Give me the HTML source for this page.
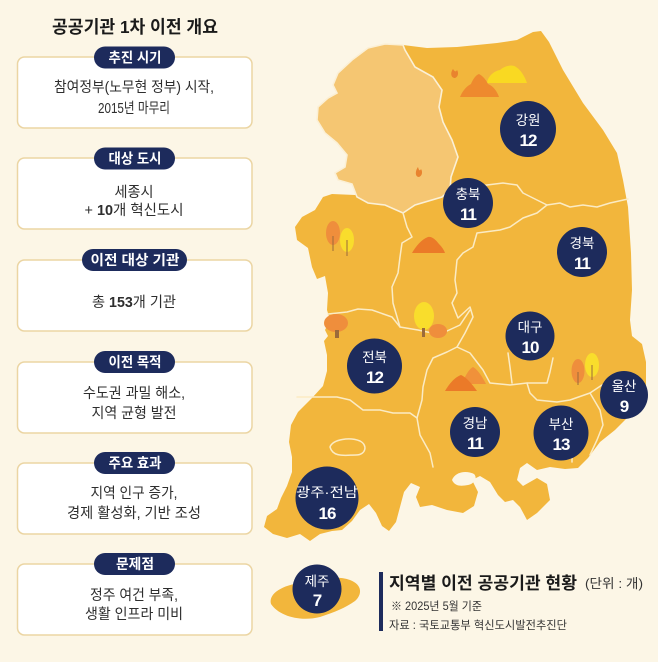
<!DOCTYPE html>
<html><head><meta charset="utf-8"><style>
html,body{margin:0;padding:0;background:#FCF6E6;}
svg{display:block;}
text{font-family:"Liberation Sans","Noto Sans CJK KR",sans-serif;}
</style></head><body>
<svg width="658" height="662" viewBox="0 0 658 662" xmlns="http://www.w3.org/2000/svg">
<rect x="0" y="0" width="658" height="662" fill="#FCF6E6"/>

<!-- LEFT COLUMN -->
<text x="135" y="33" text-anchor="middle" font-size="17.5" font-weight="bold" fill="#1a1a1a" textLength="166" lengthAdjust="spacingAndGlyphs">공공기관 1차 이전 개요</text>

<g fill="#fff" stroke="#EBD5A3" stroke-width="1.5">
<rect x="17.5" y="57" width="234.5" height="71" rx="7"/>
<rect x="17.5" y="158" width="234.5" height="71" rx="7"/>
<rect x="17.5" y="260" width="234.5" height="71" rx="7"/>
<rect x="17.5" y="362" width="234.5" height="71" rx="7"/>
<rect x="17.5" y="463" width="234.5" height="71" rx="7"/>
<rect x="17.5" y="564" width="234.5" height="71" rx="7"/>
</g>
<g fill="#1D2B5C">
<rect x="94" y="46.5" width="81" height="22" rx="11"/>
<rect x="94" y="147.5" width="81" height="22" rx="11"/>
<rect x="82" y="249" width="105" height="22" rx="11"/>
<rect x="94" y="351" width="81" height="22" rx="11"/>
<rect x="94" y="452" width="81" height="22" rx="11"/>
<rect x="94" y="553" width="81" height="22" rx="11"/>
</g>
<g fill="#fff" font-size="14" font-weight="bold" text-anchor="middle">
<text x="135" y="62.5" textLength="53" lengthAdjust="spacingAndGlyphs">추진 시기</text>
<text x="135" y="163.5" textLength="53" lengthAdjust="spacingAndGlyphs">대상 도시</text>
<text x="135" y="265" textLength="89" lengthAdjust="spacingAndGlyphs">이전 대상 기관</text>
<text x="135" y="367" textLength="53" lengthAdjust="spacingAndGlyphs">이전 목적</text>
<text x="135" y="468" textLength="53" lengthAdjust="spacingAndGlyphs">주요 효과</text>
<text x="135" y="569" textLength="38" lengthAdjust="spacingAndGlyphs">문제점</text>
</g>
<g fill="#2e2e2e" font-size="14.5" text-anchor="middle">
<text x="134" y="92" textLength="160" lengthAdjust="spacingAndGlyphs">참여정부(노무현 정부) 시작,</text>
<text x="134" y="113" textLength="72" lengthAdjust="spacingAndGlyphs">2015년 마무리</text>
<text x="134" y="197" textLength="39" lengthAdjust="spacingAndGlyphs">세종시</text>
<text x="134" y="215" textLength="99" lengthAdjust="spacingAndGlyphs">+ <tspan font-weight="bold">10</tspan>개 혁신도시</text>
<text x="134" y="307" textLength="84" lengthAdjust="spacingAndGlyphs">총 <tspan font-weight="bold">153</tspan>개 기관</text>
<text x="134" y="398" textLength="102" lengthAdjust="spacingAndGlyphs">수도권 과밀 해소,</text>
<text x="134" y="418" textLength="85" lengthAdjust="spacingAndGlyphs">지역 균형 발전</text>
<text x="134" y="498" textLength="87" lengthAdjust="spacingAndGlyphs">지역 인구 증가,</text>
<text x="134" y="518" textLength="134" lengthAdjust="spacingAndGlyphs">경제 활성화, 기반 조성</text>
<text x="134" y="600" textLength="88" lengthAdjust="spacingAndGlyphs">정주 여건 부족,</text>
<text x="134" y="619" textLength="98" lengthAdjust="spacingAndGlyphs">생활 인프라 미비</text>
</g>

<!-- MAP -->
<path fill="#F2B63C" d="M403,45 L427,48 L457,47 L497,43 L517,40 L533,32 L541,31 L549,42 L563,70 L583,103 L603,130 L617,153 L623,180 L628,207 L631,253 L632,290 L630,320 L632,336 L642,344 L646,362 L646,385 L640,402 L630,415 L615,430 L600,442 L588,458 L578,468 L565,469 L550,467 L537,470 L527,463 L520,468 L517,480 L523,486 L537,478 L547,484 L550,500 L537,513 L527,520 L520,507 L513,500 L505,502 L498,495 L490,482 L480,476 L472,480 L478,492 L474,506 L463,513 L447,510 L432,505 L420,507 L416,497 L420,487 L411,483 L404,492 L400,507 L396,522 L389,531 L382,526 L376,513 L369,504 L360,510 L352,521 L342,530 L332,531 L320,534 L310,541 L300,534 L287,538 L273,534 L264,527 L267,516 L277,509 L281,498 L287,486 L292,472 L292,457 L289,442 L291,425 L298,412 L312,398 L323,386 L327,371 L327,355 L324,341 L328,336 L325,330 L330,320 L327,310 L328,293 L325,276 L317,279 L312,267 L308,248 L297,240 L295,227 L302,217 L315,210 L323,197 L332,194 L355,195 L380,180 L400,100 Z"/>
<!-- bay -->
<path fill="#FCF6E6" d="M452,480 C455,472 466,470 474,474 C478,478 474,484 468,485 C462,486 455,487 452,480 Z"/>
<!-- Gyeonggi light region -->
<path fill="#F5C672" stroke="#FBF0D6" stroke-width="1.6" d="M403,45 L385,44 L368,48 L352,60 L338,73 L333,85 L337,93 L328,98 L318,107 L317,120 L325,133 L337,143 L347,155 L345,167 L335,173 L338,180 L352,184 L357,197 L368,203 L385,205 L403,213 L415,205 L442,197 L450,190 L451,177 L458,157 L452,140 L443,122 L439,107 L442,90 L433,77 L415,67 L405,50 Z"/>
<!-- region borders -->
<g fill="none" stroke="#FBEBC4" stroke-width="1.5" stroke-linejoin="round" stroke-linecap="round">
<path d="M447,192 L463,188 L487,185 L503,183 L517,185 L523,193 L537,200 L547,205 L560,203 L570,207 L583,205 L597,207 L610,203 L628,199"/>
<path d="M403,213 L407,227 L412,237 L402,243 L400,257 L398,273 L392,287 L393,303 L395,310 L400,327"/>
<path d="M328,314 L347,312 L358,309 L372,310 L392,317 L400,327 L418,330 L432,333 L447,331 L460,325 L470,310"/>
<path d="M547,205 L537,213 L523,218 L510,227 L500,230 L477,233 L473,247 L463,253 L457,260 L455,280 L457,293 L452,303 L458,318 L470,307 L473,317 L465,333 L457,347 L447,352 L433,358 L427,370 L423,387 L422,400 L417,418 L420,435 L430,453 L433,467"/>
<path d="M297,397 L320,397 L337,397 L350,400 L363,410 L380,410 L393,413 L410,413 L417,418"/>
<path d="M457,347 L470,353 L483,370 L490,383 L510,385 L527,383 L530,393 L537,400 L557,402 L570,400 L590,393 L602,385 L625,382"/>
<path d="M508,353 L510,367 L512,383"/>
<path d="M553,358 L550,372 L547,383 L527,383"/>
<path d="M590,393 L600,410 L603,425 L597,440 L590,455"/>
<path d="M572,438 L572,462"/>
<path d="M330,447 C333,439 350,437 360,441 C368,445 366,455 356,455 C346,455 333,458 330,447 Z"/>
</g>

<!-- decorations -->
<path fill="#F9D922" d="M487,83 C488,76 494,71 500,70 C504,66 512,64 516,67 C521,70 525,77 527,83 Z"/>
<path fill="#EE8A2E" d="M460,97 C463,90 467,86 471,84 C473,79 476,75 479,74 C483,76 486,80 488,84 C493,86 497,91 499,97 Z"/>
<path fill="#E9832E" d="M453,69 C450,73 451,78 455,78 C458,77 459,73 457,70 C456,72 455,72 453,69 Z"/>
<path fill="#E9832E" d="M418,167 C415,171 415,177 419,177 C422,176 423,172 421,169 C420,171 419,171 418,167 Z"/>
<path fill="#EB7A28" d="M412,253 C416,246 422,239 428,237 C432,236 436,240 439,244 C442,247 444,250 445,253 Z"/>
<ellipse cx="333" cy="233" rx="7" ry="12" fill="#EF8E3C"/>
<line x1="333" y1="236" x2="333" y2="251" stroke="#9B6A3A" stroke-width="1"/>
<ellipse cx="347" cy="240" rx="7" ry="12" fill="#F9DD2C"/>
<line x1="347" y1="240" x2="347" y2="256" stroke="#9B6A3A" stroke-width="1"/>
<ellipse cx="438" cy="331" rx="9" ry="7" fill="#EF8E3C"/>
<ellipse cx="424" cy="316" rx="10" ry="14" fill="#F9DD2C"/>
<rect x="422" y="328" width="3" height="9" fill="#9B6A3A"/>
<ellipse cx="336" cy="323" rx="12" ry="9" fill="#EF8E3C"/>
<rect x="335" y="330" width="4" height="8" fill="#9B6A3A"/>
<path fill="#F0913A" d="M462,384 C465,376 469,369 473,367 C477,369 482,376 486,384 Z"/>
<path fill="#EB7A28" d="M445,391 C449,384 455,377 461,375 C466,377 472,384 477,391 Z"/>
<ellipse cx="578" cy="371" rx="6.5" ry="12" fill="#EF8E3C"/>
<line x1="578" y1="372" x2="578" y2="385" stroke="#9B6A3A" stroke-width="1"/>
<ellipse cx="592" cy="365" rx="7" ry="12" fill="#F9DD2C"/>
<line x1="592" y1="365" x2="592" y2="380" stroke="#9B6A3A" stroke-width="1"/>

<!-- Jeju -->
<path fill="#F2B63C" d="M271,604 C268,593 284,585 300,583 C315,579 336,575 350,580 C363,585 362,595 355,601 C345,608 335,612 320,617 C300,622 279,616 271,604 Z"/>

<!-- circles -->
<g fill="#1D2B5C">
<circle cx="528" cy="129" r="28"/>
<circle cx="468" cy="203" r="25"/>
<circle cx="582" cy="252" r="25"/>
<circle cx="530" cy="336" r="24.5"/>
<circle cx="374.5" cy="366" r="27.5"/>
<circle cx="624" cy="395" r="24"/>
<circle cx="475" cy="432" r="25"/>
<circle cx="561" cy="433" r="27.5"/>
<circle cx="327" cy="498" r="31.5"/>
<circle cx="317" cy="589" r="24.5"/>
</g>
<g fill="#fff" text-anchor="middle" font-size="13.5">
<text x="528" y="125">강원</text>
<text x="468" y="199">충북</text>
<text x="582" y="248">경북</text>
<text x="530" y="332">대구</text>
<text x="374.5" y="362">전북</text>
<text x="624" y="391">울산</text>
<text x="475" y="428">경남</text>
<text x="561" y="429">부산</text>
<text x="327" y="497" textLength="62" lengthAdjust="spacingAndGlyphs">광주·전남</text>
<text x="317" y="586">제주</text>
</g>
<g fill="#fff" text-anchor="middle" font-size="17" font-weight="bold" letter-spacing="-1">
<text x="528" y="146">12</text>
<text x="468" y="220">11</text>
<text x="582" y="269">11</text>
<text x="530" y="353">10</text>
<text x="374.5" y="383">12</text>
<text x="624" y="412">9</text>
<text x="475" y="449">11</text>
<text x="561" y="450">13</text>
<text x="327" y="519">16</text>
<text x="317" y="606">7</text>
</g>

<!-- legend -->
<rect x="379" y="572" width="4" height="59" fill="#1D2B5C"/>
<text x="389" y="589" font-size="17" font-weight="bold" fill="#1a1a1a" textLength="188" lengthAdjust="spacingAndGlyphs">지역별 이전 공공기관 현황</text>
<text x="585" y="588" font-size="13" fill="#333" textLength="58" lengthAdjust="spacingAndGlyphs">(단위 : 개)</text>
<text x="391" y="610" font-size="11.5" fill="#333" textLength="91" lengthAdjust="spacingAndGlyphs">※ 2025년 5월 기준</text>
<text x="389" y="629" font-size="11.5" fill="#333" textLength="178" lengthAdjust="spacingAndGlyphs">자료 : 국토교통부 혁신도시발전추진단</text>
</svg>
</body></html>
